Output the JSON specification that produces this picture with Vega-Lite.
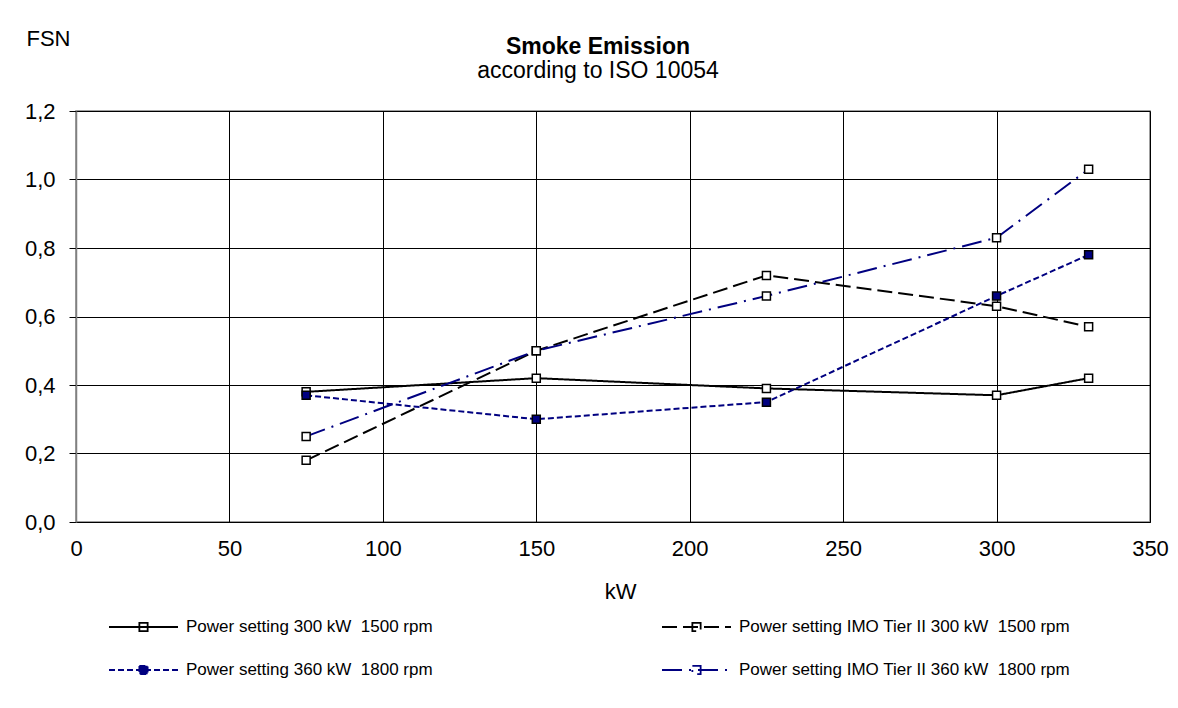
{
  "$schema": "https://vega.github.io/schema/vega-lite/v6.json",
  "width": 1074,
  "height": 411,
  "autosize": {"type": "none"},
  "padding": {"left": 76, "top": 111, "right": 28, "bottom": 186},
  "background": "white",
  "config": {
    "font": "Liberation Sans",
    "view": {"stroke": "#808080", "strokeWidth": 1.5}
  },
  "title": {
    "text": "Smoke Emission",
    "subtitle": "according to ISO 10054",
    "fontSize": 23,
    "fontWeight": "bold",
    "color": "black",
    "subtitleFontSize": 23,
    "subtitleColor": "black",
    "subtitleFont": "Liberation Sans",
    "subtitlePadding": 1,
    "anchor": "middle",
    "dx": -15,
    "offset": -56
  },
  "data": {
    "values": [
      {"series": "Power setting 300 kW\u00a0 1500 rpm", "kW": 75, "FSN": 0.38},
      {"series": "Power setting 300 kW\u00a0 1500 rpm", "kW": 150, "FSN": 0.42},
      {"series": "Power setting 300 kW\u00a0 1500 rpm", "kW": 225, "FSN": 0.39},
      {"series": "Power setting 300 kW\u00a0 1500 rpm", "kW": 300, "FSN": 0.37},
      {"series": "Power setting 300 kW\u00a0 1500 rpm", "kW": 330, "FSN": 0.42},
      {"series": "Power setting IMO Tier II 300 kW\u00a0 1500 rpm", "kW": 75, "FSN": 0.18},
      {"series": "Power setting IMO Tier II 300 kW\u00a0 1500 rpm", "kW": 150, "FSN": 0.50},
      {"series": "Power setting IMO Tier II 300 kW\u00a0 1500 rpm", "kW": 225, "FSN": 0.72},
      {"series": "Power setting IMO Tier II 300 kW\u00a0 1500 rpm", "kW": 300, "FSN": 0.63},
      {"series": "Power setting IMO Tier II 300 kW\u00a0 1500 rpm", "kW": 330, "FSN": 0.57},
      {"series": "Power setting 360 kW\u00a0 1800 rpm", "kW": 75, "FSN": 0.37},
      {"series": "Power setting 360 kW\u00a0 1800 rpm", "kW": 150, "FSN": 0.30},
      {"series": "Power setting 360 kW\u00a0 1800 rpm", "kW": 225, "FSN": 0.35},
      {"series": "Power setting 360 kW\u00a0 1800 rpm", "kW": 300, "FSN": 0.66},
      {"series": "Power setting 360 kW\u00a0 1800 rpm", "kW": 330, "FSN": 0.78},
      {"series": "Power setting IMO Tier II 360 kW\u00a0 1800 rpm", "kW": 75, "FSN": 0.25},
      {"series": "Power setting IMO Tier II 360 kW\u00a0 1800 rpm", "kW": 150, "FSN": 0.50},
      {"series": "Power setting IMO Tier II 360 kW\u00a0 1800 rpm", "kW": 225, "FSN": 0.66},
      {"series": "Power setting IMO Tier II 360 kW\u00a0 1800 rpm", "kW": 300, "FSN": 0.83},
      {"series": "Power setting IMO Tier II 360 kW\u00a0 1800 rpm", "kW": 330, "FSN": 1.03}
    ]
  },
  "encoding": {
    "x": {
      "field": "kW",
      "type": "quantitative",
      "scale": {"domain": [0, 350], "nice": false, "zero": false},
      "axis": {
        "values": [0, 50, 100, 150, 200, 250, 300, 350],
        "labelFontSize": 22,
        "labelColor": "black",
        "labelFlush": false,
        "labelOverlap": false,
        "labelPadding": 16,
        "ticks": false,
        "domainColor": "black",
        "domainWidth": 1,
        "gridColor": "black",
        "gridOpacity": 1,
        "gridWidth": 1,
        "title": "kW",
        "titleFontSize": 22,
        "titleFontWeight": "normal",
        "titleColor": "black",
        "titleX": 544,
        "titleY": 76,
        "titleBaseline": "alphabetic"
      }
    },
    "y": {
      "field": "FSN",
      "type": "quantitative",
      "scale": {"domain": [0, 1.2], "nice": false},
      "axis": {
        "values": [0, 0.2, 0.4, 0.6, 0.8, 1.0, 1.2],
        "labelExpr": "replace(format(datum.value, '.1f'), '.', ',')",
        "labelFontSize": 22,
        "labelColor": "black",
        "labelFlush": false,
        "labelOverlap": false,
        "labelPadding": 14,
        "tickSize": 7,
        "tickColor": "black",
        "domainColor": "#808080",
        "domainWidth": 1.5,
        "gridColor": "black",
        "gridOpacity": 1,
        "gridWidth": 1,
        "title": "FSN",
        "titleAngle": 0,
        "titleAlign": "left",
        "titleBaseline": "alphabetic",
        "titleX": -50,
        "titleY": -66,
        "titleFontSize": 22,
        "titleFontWeight": "normal",
        "titleColor": "black"
      }
    }
  },
  "layer": [
    {
      "mark": {"type": "line", "strokeWidth": 2},
      "encoding": {
        "color": {
          "field": "series",
          "type": "nominal",
          "scale": {
            "domain": [
              "Power setting 300 kW\u00a0 1500 rpm",
              "Power setting 360 kW\u00a0 1800 rpm",
              "Power setting IMO Tier II 300 kW\u00a0 1500 rpm",
              "Power setting IMO Tier II 360 kW\u00a0 1800 rpm"
            ],
            "range": ["#000000", "#000080", "#000000", "#000080"]
          },
          "legend": {
            "title": null,
            "orient": "none",
            "legendX": 32,
            "legendY": 506,
            "columns": 2,
            "columnPadding": 228,
            "rowPadding": 23,
            "clipHeight": 20,
            "padding": 0,
            "symbolSize": 4761,
            "symbolType": "M-1,0H1M-0.12,-0.12H0.12V0.12H-0.12Z",
            "symbolStrokeWidth": 1.8,
            "symbolFillColor": "white",
            "labelFontSize": 17,
            "labelOffset": 7,
            "labelLimit": 400,
            "labelColor": "black",
            "encode": {
              "symbols": {
                "update": {
                  "fill": {"signal": "indexof(datum.value, 'IMO') < 0 && indexof(datum.value, '360') >= 0 ? '#000080' : 'white'"}
                }
              }
            }
          }
        },
        "strokeDash": {
          "field": "series",
          "type": "nominal",
          "scale": {
            "domain": [
              "Power setting 300 kW\u00a0 1500 rpm",
              "Power setting 360 kW\u00a0 1800 rpm",
              "Power setting IMO Tier II 300 kW\u00a0 1500 rpm",
              "Power setting IMO Tier II 360 kW\u00a0 1800 rpm"
            ],
            "range": [[1, 0], [6, 3], [15, 6], [20, 7, 2, 7]]
          },
          "legend": {
            "title": null,
            "orient": "none",
            "legendX": 32,
            "legendY": 506,
            "columns": 2,
            "columnPadding": 228,
            "rowPadding": 23,
            "clipHeight": 20,
            "padding": 0,
            "symbolSize": 4761,
            "symbolType": "M-1,0H1M-0.12,-0.12H0.12V0.12H-0.12Z",
            "symbolStrokeWidth": 1.8,
            "symbolFillColor": "white",
            "labelFontSize": 17,
            "labelOffset": 7,
            "labelLimit": 400,
            "labelColor": "black"
          }
        }
      }
    },
    {
      "mark": {"type": "point", "shape": "square", "size": 64, "filled": true, "stroke": "black", "strokeWidth": 1.5, "opacity": 1},
      "encoding": {
        "fill": {
          "field": "series",
          "type": "nominal",
          "scale": {
            "domain": [
              "Power setting 300 kW\u00a0 1500 rpm",
              "Power setting 360 kW\u00a0 1800 rpm",
              "Power setting IMO Tier II 300 kW\u00a0 1500 rpm",
              "Power setting IMO Tier II 360 kW\u00a0 1800 rpm"
            ],
            "range": ["white", "#000080", "white", "white"]
          },
          "legend": null
        }
      }
    }
  ]
}
